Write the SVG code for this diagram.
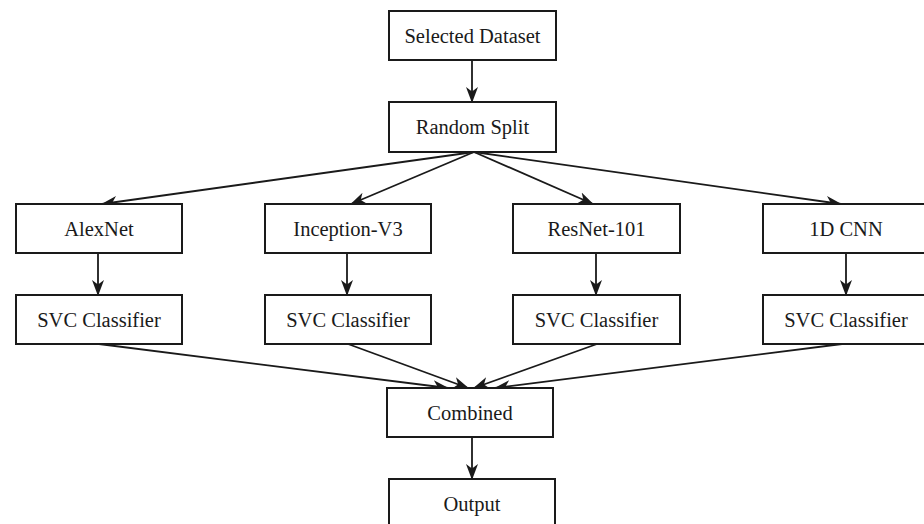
<svg xmlns="http://www.w3.org/2000/svg" width="924" height="524" viewBox="0 0 924 524">
<style>
.box{fill:#fff;stroke:#1a1a1a;stroke-width:2}
.lbl{font-family:"Liberation Serif","Times New Roman",serif;font-size:20.5px;fill:#1a1a1a;text-anchor:middle}
.edge{stroke:#1a1a1a;stroke-width:1.8;fill:none;marker-end:url(#ah)}
</style>
<defs>
<marker id="ah" markerUnits="userSpaceOnUse" markerWidth="16" markerHeight="16" viewBox="0 0 16 16" refX="15" refY="8" orient="auto">
<path d="M0,2 L16,8 L0,14 L4.5,8 z" fill="#1a1a1a"/>
</marker>
</defs>
<rect width="924" height="524" fill="#fff"/>
<g id="connectors">
<line class="edge" x1="472" y1="60" x2="472" y2="102"/>
<line class="edge" x1="474" y1="152" x2="102" y2="204"/>
<line class="edge" x1="474" y1="152" x2="351" y2="204"/>
<line class="edge" x1="474" y1="152" x2="593" y2="204"/>
<line class="edge" x1="474" y1="152" x2="841" y2="204"/>
<line class="edge" x1="98" y1="253" x2="98" y2="295"/>
<line class="edge" x1="347" y1="253" x2="347" y2="295"/>
<line class="edge" x1="596" y1="253" x2="596" y2="295"/>
<line class="edge" x1="846" y1="253" x2="846" y2="295"/>
<line class="edge" x1="99" y1="344" x2="448" y2="388"/>
<line class="edge" x1="348" y1="344" x2="468" y2="388"/>
<line class="edge" x1="597" y1="344" x2="474" y2="388"/>
<line class="edge" x1="842" y1="344" x2="495" y2="388"/>
<line class="edge" x1="472" y1="437" x2="472" y2="479"/>
</g>
<g id="selected-dataset"><rect class="box" x="389" y="11" width="167" height="49"/><text class="lbl" x="472.5" y="42.5">Selected Dataset</text></g>
<g id="random-split"><rect class="box" x="389" y="102" width="167" height="50"/><text class="lbl" x="472.5" y="134">Random Split</text></g>
<g id="alexnet"><rect class="box" x="16" y="204" width="166" height="49"/><text class="lbl" x="99" y="235.5">AlexNet</text></g>
<g id="inception"><rect class="box" x="265" y="204" width="166" height="49"/><text class="lbl" x="348" y="235.5">Inception-V3</text></g>
<g id="resnet"><rect class="box" x="513" y="204" width="167" height="49"/><text class="lbl" x="596.5" y="235.5">ResNet-101</text></g>
<g id="cnn1d"><rect class="box" x="763" y="204" width="166" height="49"/><text class="lbl" x="846" y="235.5">1D CNN</text></g>
<g id="svc1"><rect class="box" x="16" y="295" width="166" height="49"/><text class="lbl" x="99" y="326.5">SVC Classifier</text></g>
<g id="svc2"><rect class="box" x="265" y="295" width="166" height="49"/><text class="lbl" x="348" y="326.5">SVC Classifier</text></g>
<g id="svc3"><rect class="box" x="513" y="295" width="167" height="49"/><text class="lbl" x="596.5" y="326.5">SVC Classifier</text></g>
<g id="svc4"><rect class="box" x="763" y="295" width="166" height="49"/><text class="lbl" x="846" y="326.5">SVC Classifier</text></g>
<g id="combined"><rect class="box" x="387" y="388" width="166" height="49"/><text class="lbl" x="470" y="419.5">Combined</text></g>
<g id="output"><rect class="box" x="389" y="479" width="166" height="49"/><text class="lbl" x="472" y="510.5">Output</text></g>
</svg>
